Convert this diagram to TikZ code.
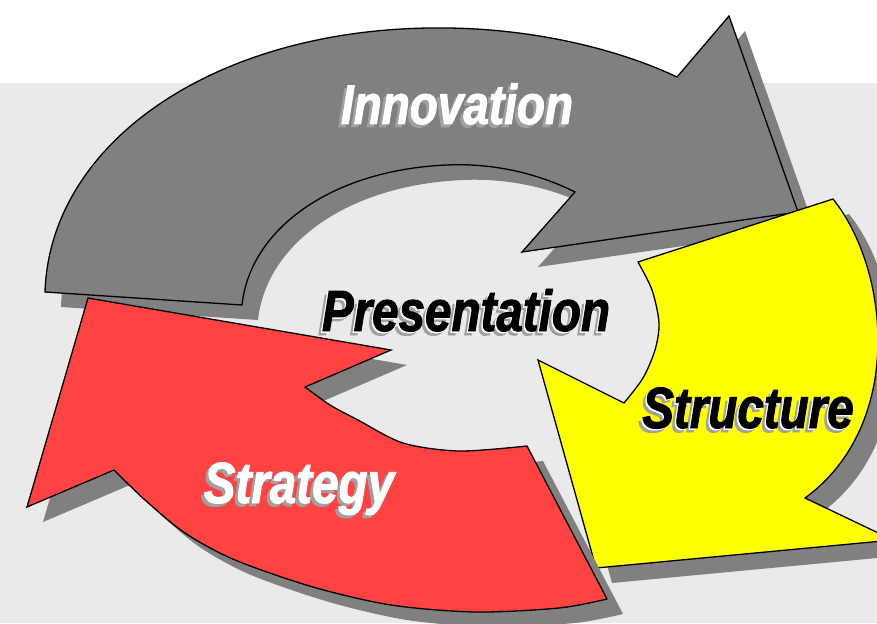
\documentclass[tikz,border=0pt]{standalone}
\usepackage{fontspec}
\newfontfamily\lab{Liberation Sans}[FakeStretch=0.82,FakeBold=1.6]
\definecolor{bg}{RGB}{234,234,234}
\definecolor{arrgray}{RGB}{128,128,128}
\definecolor{arrred}{RGB}{255,66,66}
\definecolor{arryel}{RGB}{255,255,0}
\definecolor{shad}{RGB}{128,128,128}
\definecolor{tsh}{RGB}{160,160,160}
\newcommand\gpath{(45,292) .. controls (50,140) and (220,25) .. (447,28) .. controls (537,29) and (620,50) .. (677,77) -- (729,16) -- (798,212) -- (522,252) -- (575,192) .. controls (535,172) and (490,163) .. (447,165) .. controls (330,170) and (250,230) .. (242,305) -- cycle}
\newcommand\ypath{(833,199) .. controls (890,270) and (905,425) .. (805,498) -- (893,540) -- (596,568) -- (538,360) -- (624,403) -- plot[smooth] coordinates {(624,403) (643,378) (655,350) (659,323) (652,290) (638,262)} -- cycle}
\newcommand\rpath{plot[smooth] coordinates {(527,446) (459,451) (403,443) (358,420) (330,405) (305,387)} -- (391,350) -- (88,298) -- (27,507) -- (114,470) -- plot[smooth] coordinates {(114,470) (145,500) (185,533) (235,560) (313,587) (391,605) (475,612) (559,608) (607,599)} -- cycle}
\begin{document}
\begin{tikzpicture}[x=1pt,y=-1pt,
  arrowbody/.style={draw=black, line width=1.3pt},
  dropshadow/.style={fill=shad, shift={(16,15)}},
  lbl/.style={anchor=base, inner sep=0pt, font=\lab\bfseries\itshape\fontsize{58}{60}\selectfont}]
\useasboundingbox (0,0) rectangle (877,623);
\clip (0,0) rectangle (877,623);
\fill[white] (0,0) rectangle (877,623);
\fill[bg] (0,83) rectangle (877,623);
% gray arrow
\fill[dropshadow] \gpath;
\filldraw[arrowbody, fill=arrgray] \gpath;
% yellow arrow
\fill[dropshadow] \ypath;
\filldraw[arrowbody, fill=arryel] \ypath;
% red arrow
\fill[dropshadow] \rpath;
\filldraw[arrowbody, fill=arrred] \rpath;
% labels
\node[lbl, text=tsh, font=\lab\bfseries\itshape\fontsize{56}{60}\selectfont] (inno-sh) at (454,127) {Innovation};
\node[lbl, text=white, font=\lab\bfseries\itshape\fontsize{56}{60}\selectfont] (inno) at (457,124) {Innovation};
\node[lbl, text=tsh] (pres-sh) at (462,335) {Presentation};
\node[lbl, text=white] (pres-halo) at (464.5,332.5) {Presentation};
\node[lbl, text=black] (pres) at (466,331) {Presentation};
\node[lbl, text=tsh] (stru-sh) at (744,432) {Structure};
\node[lbl, text=white] (stru-halo) at (746.5,429.5) {Structure};
\node[lbl, text=black] (stru) at (748,428) {Structure};
\node[lbl, text=tsh] (stra-sh) at (296,506) {Strategy};
\node[lbl, text=white] (stra) at (299,503) {Strategy};
\end{tikzpicture}
\end{document}
